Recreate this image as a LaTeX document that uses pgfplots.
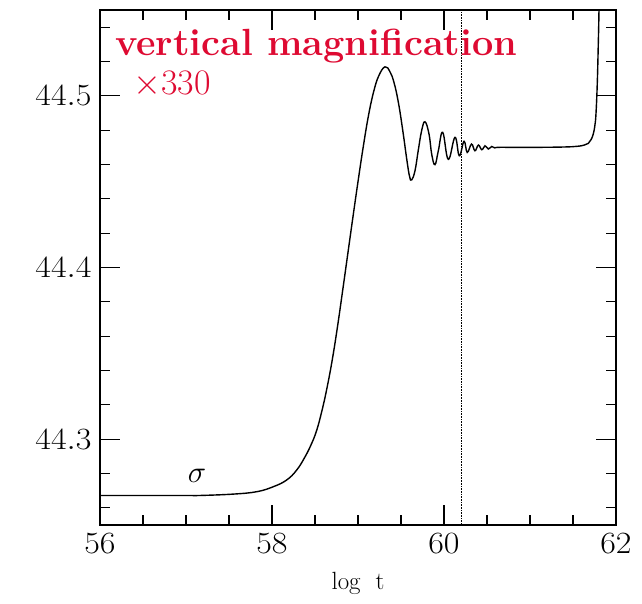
\RequirePackage{fix-cm}
\documentclass[border=0pt]{standalone}
\usepackage{fontspec}
\usepackage{graphicx}
\usepackage{pgfplots}
\pgfplotsset{compat=1.18}
\usetikzlibrary{calc}
\definecolor{magred}{RGB}{222,10,50}
\begin{document}
\begin{tikzpicture}
\begin{axis}[
  name=ax,
  scale only axis,
  width=516bp, height=515bp,
  xmin=56, xmax=62, ymin=44.25, ymax=44.55,
  xtick={56,58,60,62},
  ytick={44.3,44.4,44.5},
  minor xtick={56.5,57,57.5,58.5,59,59.5,60.5,61,61.5},
  minor ytick={44.26,44.28,44.32,44.34,44.36,44.38,44.42,44.44,44.46,44.48,44.52,44.54},
  tick align=inside,
  tick pos=both,
  major tick length=20bp,
  minor tick length=10bp,
  every tick/.style={black, line width=1.1bp},
  axis line style={line width=1.2bp},
  ticklabel style={font=\fontsize{31}{37}\selectfont},
  xticklabel={\scalebox{1.1}[1]{$\pgfmathprintnumber{\tick}$}},
  yticklabel={\scalebox{1.1}[1]{$\pgfmathprintnumber[fixed,precision=1,fixed zerofill]{\tick}$}},
  yticklabel style={xshift=-5bp},
  xticklabel style={yshift=-5bp},
  xlabel={log\ \ t},
  xlabel style={font=\fontsize{25}{30}\selectfont, at={(axis description cs:0.5,0)}, anchor=base, yshift=-64bp},
  clip=true,
]
\addplot[black, densely dotted, line width=0.6bp] coordinates {(60.2,44.25) (60.2,44.55)};
\addplot[black, line width=1.4bp, smooth, tension=0.7] coordinates {
(56.0,44.2672) (56.5,44.2672) (57.0,44.2672) (57.163,44.2672) (57.55,44.2680)
(57.822,44.2694) (58.015,44.2723) (58.17,44.2762) (58.287,44.2820) (58.384,44.2897)
(58.461,44.2975) (58.52,44.3052) (58.578,44.3160) (58.636,44.3290) (58.70,44.3460)
(58.76,44.3650) (58.82,44.3860) (58.88,44.4075) (58.94,44.4290) (59.00,44.4500)
(59.06,44.4700) (59.12,44.4880) (59.18,44.5020) (59.24,44.5115) (59.314,44.5169)
(59.372,44.5140) (59.42,44.5075) (59.47,44.4960) (59.52,44.4800) (59.57,44.4620)
(59.60,44.4530) (59.624,44.4510) (59.663,44.4564)
(59.70,44.4680) (59.74,44.4797) (59.779,44.4849) (59.826,44.4777) (59.857,44.4660)
(59.895,44.4599) (59.934,44.4680) (59.985,44.4787) (60.05,44.4630) (60.128,44.4758)
(60.178,44.4651) (60.233,44.4735) (60.27,44.4670) (60.32,44.4719) (60.36,44.4680)
(60.40,44.4713) (60.44,44.4686) (60.477,44.4709) (60.515,44.4690) (60.555,44.4705)
(60.59,44.4697) (60.63,44.4700) (60.8,44.4700) (61.1,44.4700) (61.4,44.4702)
(61.55,44.4706) (61.63,44.4713) (61.678,44.4723) (61.71,44.4745) (61.736,44.4778)
(61.755,44.4830) (61.767,44.4894) (61.782,44.5068) (61.794,44.5301) (61.802,44.5494)
(61.81,44.58)
};
\node[anchor=base west, inner sep=0pt, font=\fontsize{31}{37}\selectfont] at (axis cs:57.02,44.275) {$\sigma$};
\node[anchor=base west, inner sep=0pt, text=magred, font=\fontsize{38}{45}\selectfont\bfseries] at (rel axis cs:0.029,0.9126) {vertical magnification};
\node[anchor=base west, inner sep=0pt, text=magred, font=\fontsize{36}{43}\selectfont] at (rel axis cs:0.064,0.835) {$\times$330};
\end{axis}
\pgfresetboundingbox
\path[use as bounding box] ($(ax.south west)+(-100bp,-79bp)$) rectangle ($(ax.north east)+(26bp,10bp)$);
\end{tikzpicture}
\end{document}
